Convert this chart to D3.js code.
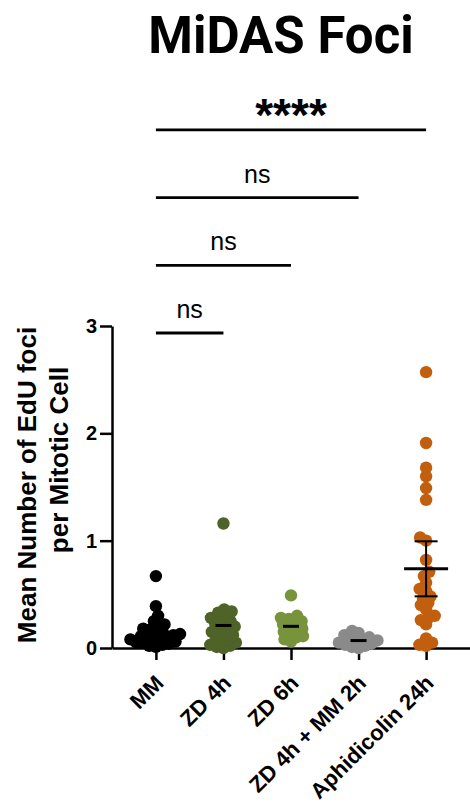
<!DOCTYPE html>
<html>
<head>
<meta charset="utf-8">
<script src="https://cdn.jsdelivr.net/npm/d3@7"></script>
<style>
  html, body { margin: 0; padding: 0; background: #fff; }
  svg { display: block; }
</style>
</head>
<body>
<svg id="chart" width="470" height="811"></svg>
<script>
// Groups along the x axis
const categories = ["MM", "ZD 4h", "ZD 6h", "ZD 4h + MM 2h", "Aphidicolin 24h"];
const groupColors = ["#000000", "#4f6228", "#77933c", "#8a8a8a", "#c25f0e"];

// Mean number of EdU foci per mitotic cell, one value per cell
const mmValues = [0.67, 0.39, 0.30, 0.25, 0.22, 0.20, 0.18, 0.17, 0.15, 0.14, 0.13, 0.12,
  0.11, 0.10, 0.10, 0.09, 0.08, 0.07, 0.06, 0.05, 0.05, 0.04, 0.03, 0.02, 0.01];
const zd4Values = [1.16, 0.36, 0.34, 0.33, 0.30, 0.28, 0.27, 0.25, 0.23, 0.22, 0.20, 0.18,
  0.17, 0.15, 0.13, 0.12, 0.10, 0.08, 0.06, 0.05, 0.03, 0.02, 0.01, 0.00];
const zd6Values = [0.49, 0.30, 0.28, 0.27, 0.25, 0.24, 0.22, 0.20, 0.18, 0.17, 0.15, 0.13,
  0.11, 0.10, 0.08, 0.06];
const zd4mmValues = [0.16, 0.14, 0.12, 0.10, 0.09, 0.08, 0.07, 0.06, 0.05, 0.04, 0.03,
  0.02, 0.01, 0.00];
const aphValues = [2.57, 1.91, 1.68, 1.60, 1.49, 1.38, 1.03, 1.00, 0.82, 0.71, 0.67, 0.61,
  0.55, 0.53, 0.48, 0.46, 0.42, 0.40, 0.36, 0.30, 0.28, 0.26, 0.22, 0.09, 0.05, 0.03, 0.02];
const seriesValues = [mmValues, zd4Values, zd6Values, zd4mmValues, aphValues];

// Axis ticks
const yTicks = [0, 1, 2, 3];

// Pairwise comparisons against MM, bottom to top
const comparisons = [
  { from: "MM", to: "ZD 4h", label: "ns" },
  { from: "MM", to: "ZD 6h", label: "ns" },
  { from: "MM", to: "ZD 4h + MM 2h", label: "ns" },
  { from: "MM", to: "Aphidicolin 24h", label: "****" }
];

const title = "MiDAS Foci";
const yTitleLines = ["Mean Number of EdU foci", "per Mitotic Cell"];

const svg = d3.select("#chart");
const sans = "'Liberation Sans', Arial, Helvetica, sans-serif";

const y = d3.scaleLinear().domain([0, 3]).range([648, 326]);
const x = d3.scalePoint().domain(categories).range([112, 470]).padding(0.65);

// Title
svg.append("text")
  .attr("x", 281).attr("y", 53)
  .attr("text-anchor", "middle")
  .style("font-family", "Roboto, 'Noto Sans', sans-serif")
  .style("font-weight", 700)
  .style("font-size", "51px")
  .attr("fill", "#000")
  .text(title);

// Y axis title (two lines)
const yTitleCenters = [485, 460];
const yTitleBaselines = [36, 68];
yTitleLines.forEach((line, i) => {
  svg.append("text")
    .attr("transform", `translate(${yTitleBaselines[i]},${yTitleCenters[i]}) rotate(-90)`)
    .attr("text-anchor", "middle")
    .style("font-family", sans)
    .style("font-weight", 700)
    .style("font-size", "26px")
    .attr("fill", "#000")
    .text(line);
});

// Y axis
const yAxis = svg.append("g")
  .attr("transform", "translate(112,0)")
  .call(d3.axisLeft(y).tickValues(yTicks).tickFormat(d3.format("d")).tickSize(12).tickSizeOuter(0).tickPadding(3));
yAxis.select(".domain").attr("stroke", "#000").attr("stroke-width", 2.5);
yAxis.selectAll(".tick line").attr("stroke", "#000").attr("stroke-width", 2.5);
yAxis.selectAll(".tick text")
  .style("font-family", sans).style("font-weight", 700).style("font-size", "20px").attr("fill", "#000");

// X axis
const xAxis = svg.append("g")
  .attr("transform", `translate(0,${y(0)})`)
  .call(d3.axisBottom(x).tickSize(12).tickSizeOuter(0).tickPadding(4));
xAxis.select(".domain").attr("stroke", "#000").attr("stroke-width", 2.5);
xAxis.selectAll(".tick line").attr("stroke", "#000").attr("stroke-width", 2.5);
xAxis.selectAll(".tick text")
  .style("font-family", sans).style("font-weight", 700).style("font-size", "22px").attr("fill", "#000")
  .attr("text-anchor", "end")
  .attr("dy", "0.35em")
  .attr("transform", "translate(3,31) rotate(-45)")
  .attr("y", 0).attr("x", 0);

// Beeswarm placement: each point takes the horizontal offset nearest the
// centre that keeps it at least 2*collide away from points already placed.
function swarm(values, collide) {
  const pts = values.map(v => ({ v, py: y(v), dx: 0 }))
    .sort((a, b) => b.py - a.py);
  const placed = [];
  const minD2 = 4 * collide * collide;
  pts.forEach(p => {
    const cands = [0];
    placed.forEach(q => {
      const dy = Math.abs(p.py - q.py);
      if (dy < 2 * collide) {
        const off = Math.sqrt(minD2 - dy * dy);
        cands.push(q.dx + off, q.dx - off);
      }
    });
    cands.sort((a, b) => Math.abs(a) - Math.abs(b) || a - b);
    for (const c of cands) {
      if (placed.every(q => (c - q.dx) ** 2 + (p.py - q.py) ** 2 >= minD2 - 1e-6)) {
        p.dx = c;
        break;
      }
    }
    placed.push(p);
  });
  return pts;
}

const plot = svg.append("g");
categories.forEach((cat, i) => {
  const pts = swarm(seriesValues[i], 3.4);
  plot.append("g").selectAll("circle")
    .data(pts)
    .join("circle")
    .attr("cx", d => x(cat) + d.dx)
    .attr("cy", d => d.py)
    .attr("r", 6.2)
    .attr("fill", groupColors[i]);
});

// Means (and 95% CI for aphidicolin)
categories.forEach((cat, i) => {
  const vals = seriesValues[i];
  const m = d3.mean(vals);
  const cx = x(cat);
  const g = svg.append("g").attr("stroke", "#000");
  if (cat === "Aphidicolin 24h") {
    const sem = d3.deviation(vals) / Math.sqrt(vals.length);
    const half = 2.056 * sem;
    g.append("line").attr("x1", cx).attr("x2", cx).attr("y1", y(m + half)).attr("y2", y(m - half)).attr("stroke-width", 2);
    [m + half, m - half].forEach(v => {
      g.append("line").attr("x1", cx - 11.5).attr("x2", cx + 11.5).attr("y1", y(v)).attr("y2", y(v)).attr("stroke-width", 2);
    });
    g.append("line").attr("x1", cx - 22).attr("x2", cx + 22).attr("y1", y(m)).attr("y2", y(m)).attr("stroke-width", 3);
  } else {
    g.append("line").attr("x1", cx - 8).attr("x2", cx + 8).attr("y1", y(m)).attr("y2", y(m)).attr("stroke-width", 3);
  }
});

// Significance bars
const barBase = 333, barStep = 67.7;
comparisons.forEach((c, i) => {
  const ly = barBase - i * barStep;
  const x1 = x(c.from), x2 = x(c.to);
  svg.append("line")
    .attr("x1", x1).attr("x2", x2).attr("y1", ly).attr("y2", ly)
    .attr("stroke", "#000").attr("stroke-width", 2.8);
  const stars = c.label.startsWith("*");
  svg.append("text")
    .attr("x", (x1 + x2) / 2)
    .attr("y", stars ? ly + 1 : ly - 15)
    .attr("text-anchor", "middle")
    .style("font-family", sans)
    .style("font-weight", stars ? 700 : 400)
    .style("font-size", stars ? "46px" : "25px")
    .attr("fill", "#000")
    .text(c.label);
});
</script>
</body>
</html>
